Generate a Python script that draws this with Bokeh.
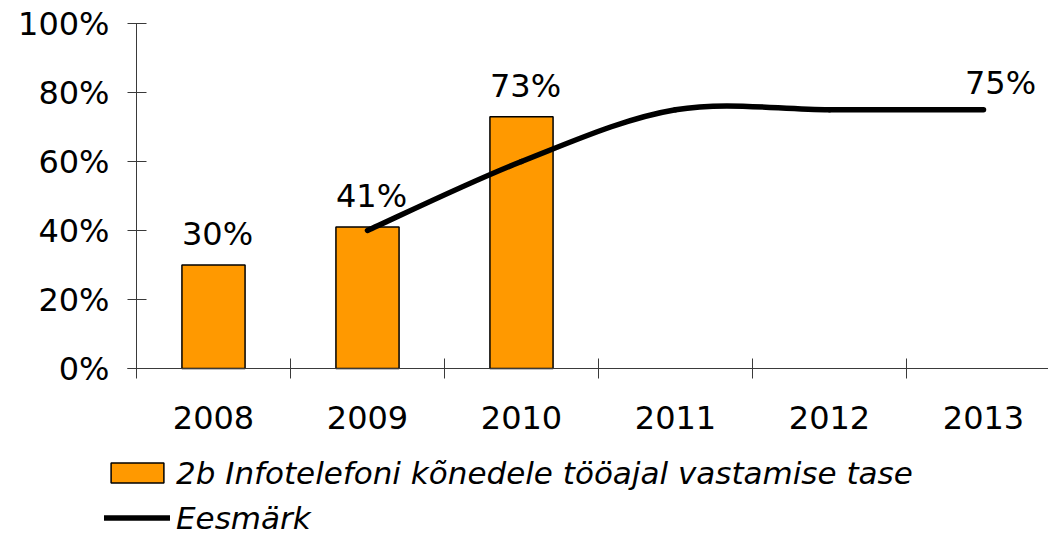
import numpy as np
from bokeh.plotting import figure
from bokeh.models import Range1d, FixedTicker, Legend, LegendItem, ColumnDataSource
from bokeh.embed import file_html
from bokeh.resources import INLINE
from bokeh.core.properties import value

# ---- data ----
years = [2008, 2009, 2010, 2011, 2012, 2013]
year_labels = ["2008", "2009", "2010", "2011", "2012", "2013"]
bar_years = [2008, 2009, 2010]
bar_values = [30, 41, 73]
bar_labels = ["30%", "41%", "73%"]
target_years = [2009, 2010, 2011, 2012, 2013]
target_values = [40, 60, 75, 75, 75]
target_end_label = "75%"
y_ticks = [0, 20, 40, 60, 80, 100]
y_tick_labels = ["0%", "20%", "40%", "60%", "80%", "100%"]
bar_series_name = "2b Infotelefoni kõnedele tööajal vastamise tase"
line_series_name = "Eesmärk"

FONT = "DejaVu Sans"
ORANGE = "#FF9900"
AXIS = "#3a3a3a"

W, H = 1048, 536
PX_PER_CAT = 154.0
PX_PER_PCT = 3.45
LEFT_PX, TOP_PX, ZERO_PX = 136, 23, 368

x0_cat = years[0] - 0.5
x_start = x0_cat - LEFT_PX / PX_PER_CAT
x_end = x_start + W / PX_PER_CAT
y_top = y_ticks[-1]
y_end = y_top + TOP_PX / PX_PER_PCT
y_start = -(H - ZERO_PX) / PX_PER_PCT

p = figure(width=W, height=H, output_backend="svg", toolbar_location=None,
           x_range=Range1d(x_start, x_end), y_range=Range1d(y_start, y_end),
           min_border_left=0, min_border_right=0, min_border_top=0,
           min_border_bottom=0)
p.outline_line_color = None
p.grid.visible = False
p.background_fill_color = "white"
p.border_fill_color = "white"

# bars
bar_src = ColumnDataSource(dict(x=bar_years, top=bar_values, label=bar_labels))
bars = p.vbar(x="x", top="top", width=0.41, bottom=0, source=bar_src,
              fill_color=ORANGE, line_color="black", line_width=1.5)
p.text(x="x", y="top", text="label", source=bar_src,
       text_font=value(FONT), text_font_size="32px", text_color="black",
       text_align="center", text_baseline="alphabetic", x_offset=4, y_offset=-31)

# smoothed target line (Catmull-Rom style bezier from the data points)
tx = np.array(target_years, dtype=float)
ty = np.array(target_values, dtype=float)
n = len(tx)
prev_i = np.r_[0, np.arange(n - 1)]
next_i = np.r_[np.arange(1, n), n - 1]
tan_x = (tx[next_i] - tx[prev_i]) / 6.0
tan_y = (ty[next_i] - ty[prev_i]) / 6.0
bz = ColumnDataSource(dict(
    x0=tx[:-1], y0=ty[:-1], x1=tx[1:], y1=ty[1:],
    cx0=tx[:-1] + tan_x[:-1], cy0=ty[:-1] + tan_y[:-1],
    cx1=tx[1:] - tan_x[1:], cy1=ty[1:] - tan_y[1:]))
line_r = p.bezier(x0="x0", y0="y0", x1="x1", y1="y1", cx0="cx0", cy0="cy0",
                  cx1="cx1", cy1="cy1", source=bz, line_color="black",
                  line_width=5.5, line_cap="round", line_join="round")
p.text(x=[target_years[-1]], y=[target_values[-1]], text=[target_end_label],
       text_font=value(FONT), text_font_size="32px", text_color="black",
       text_align="center", text_baseline="alphabetic", x_offset=17, y_offset=-27)

# axes (fixed at the data origin so the legend can sit below them inside the frame)
xa = p.xaxis[0]
xa.fixed_location = 0
xa.bounds = (x0_cat - 9 / PX_PER_CAT, x_end)
xa.ticker = FixedTicker(ticks=years, minor_ticks=[y - 0.5 for y in years] + [years[-1] + 0.5])
xa.major_label_overrides = {y: l for y, l in zip(years, year_labels)}
xa.major_tick_line_color = None
xa.major_tick_in = 0
xa.major_tick_out = 0
xa.minor_tick_in = 10
xa.minor_tick_out = 10
xa.minor_tick_line_color = AXIS
xa.axis_line_color = AXIS
xa.major_label_text_font = FONT
xa.major_label_text_font_size = "32px"
xa.major_label_text_color = "black"
xa.major_label_standoff = 27

ya = p.yaxis[0]
ya.fixed_location = x0_cat
ya.bounds = (0, y_top)
ya.ticker = FixedTicker(ticks=y_ticks)
ya.major_label_overrides = {t: l for t, l in zip(y_ticks, y_tick_labels)}
ya.major_tick_in = 10
ya.major_tick_out = 9
ya.major_tick_line_color = AXIS
ya.minor_tick_line_color = None
ya.axis_line_color = AXIS
ya.major_label_text_font = FONT
ya.major_label_text_font_size = "32px"
ya.major_label_text_color = "black"
ya.major_label_standoff = 18

legend = Legend(items=[LegendItem(label=bar_series_name, renderers=[bars]),
                       LegendItem(label=line_series_name, renderers=[line_r])],
                location=(104, 0), orientation="vertical",
                glyph_width=66, glyph_height=25, label_height=37, spacing=8,
                padding=0, margin=0, label_standoff=6,
                label_text_font=FONT, label_text_font_size="31px",
                label_text_font_style="italic", label_text_color="black",
                border_line_alpha=0, background_fill_alpha=0)
p.add_layout(legend)

open("out.html", "w").write(file_html(p, INLINE))
